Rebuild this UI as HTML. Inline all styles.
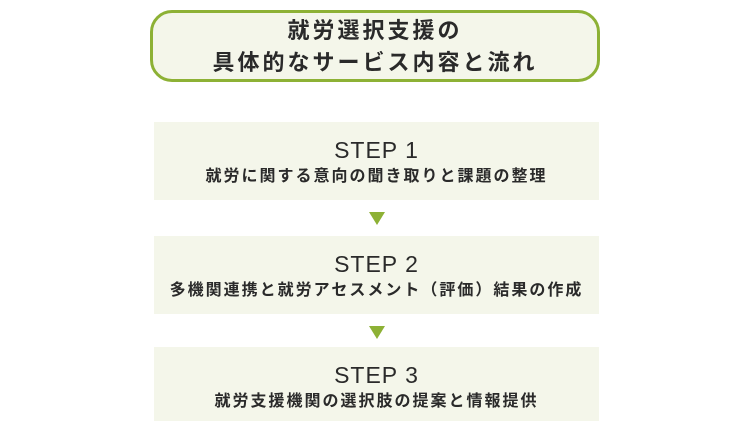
<!DOCTYPE html>
<html><head><meta charset="utf-8"><style>
body{margin:0;width:750px;height:421px;background:#fff;position:relative;overflow:hidden;font-family:"Liberation Sans","Noto Sans CJK JP",sans-serif;color:#2a2a2a}
.t{position:absolute;left:150px;top:10px;width:444px;height:64px;border:3px solid #8db135;border-radius:22px;background:#f4f6ea;text-align:center;font-size:22px;letter-spacing:3px;line-height:32px;padding-top:2px;font-weight:bold}
.s{position:absolute;left:154px;width:445px;background:#f4f6ea;text-align:center}
.s b{display:block;font-weight:normal;font-size:23px;margin-top:14px;line-height:28px;letter-spacing:1px}
.s span{display:block;font-size:16px;letter-spacing:2px;line-height:22px;margin-top:2px;font-weight:bold}
.a{position:absolute;left:369px;width:0;height:0;border-left:8px solid transparent;border-right:8px solid transparent;border-top:13px solid #8db135}
</style></head><body>
<div class="t">就労選択支援の<br>具体的なサービス内容と流れ</div>
<div class="s" style="top:122px;height:78px"><b>STEP 1</b><span>就労に関する意向の聞き取りと課題の整理</span></div>
<div class="a" style="top:212px"></div>
<div class="s" style="top:236px;height:78px"><b>STEP 2</b><span>多機関連携と就労アセスメント（評価）結果の作成</span></div>
<div class="a" style="top:326px"></div>
<div class="s" style="top:347px;height:74px"><b>STEP 3</b><span>就労支援機関の選択肢の提案と情報提供</span></div>
</body></html>
